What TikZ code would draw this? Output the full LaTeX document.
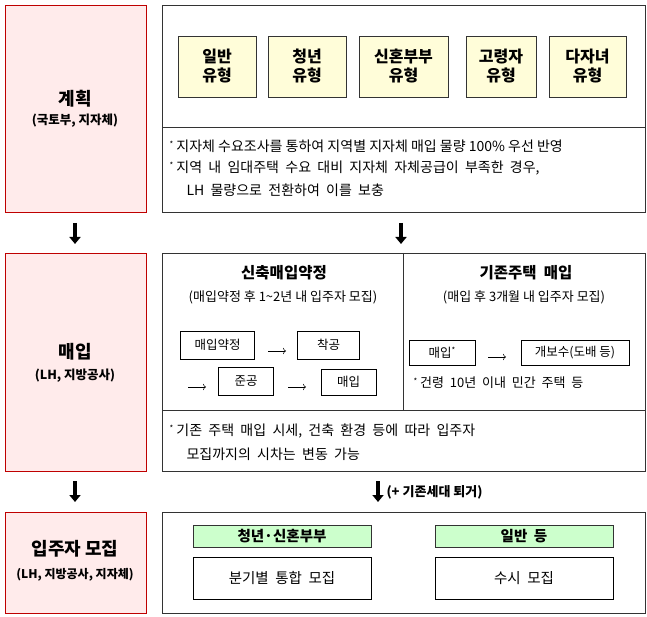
\documentclass[tikz,border=0pt]{standalone}
\usepackage{fontspec}
\setmainfont{Noto Sans CJK KR}
\usetikzlibrary{arrows.meta}
\newcommand{\myast}{\raisebox{0.5ex}{\fontsize{8}{8}\selectfont *}}
\begin{document}
\begin{tikzpicture}[x=1pt,y=-1pt,
  leftbox/.style={draw=red!75!black,fill=red!8,line width=0.8pt},
  rbox/.style={draw=black!80,line width=0.8pt},
  typebox/.style={draw=black!80,fill=yellow!15,line width=0.8pt,align=center,font=\fontsize{16}{19}\selectfont\bfseries},
  sbox/.style={draw=black,line width=0.8pt,font=\fontsize{12.5}{14}\selectfont},
  gbox/.style={draw=black!80,fill=green!20,line width=0.8pt,font=\fontsize{14.5}{16}\selectfont\bfseries},
  txt/.style={font=\fontsize{14}{16}\selectfont,anchor=west},
  big/.style={font=\fontsize{18}{21}\selectfont\bfseries},
  sub/.style={font=\fontsize{12.5}{14}\selectfont\bfseries},
  darr/.style={-{Triangle[length=7pt,width=11pt]},line width=3.4pt},
  sarr/.style={->,line width=0.6pt}]
\useasboundingbox (0,0) rectangle (647,617);
% left column
\draw[leftbox] (5,5) rectangle (146,212);
\node[big] (l1) at (75,99) {계획};
\node[sub] (l1s) at (75,121) {(국토부, 지자체)};
\draw[leftbox] (5,253) rectangle (146,471);
\node[big] (l2) at (75,352) {매입};
\node[sub] (l2s) at (75,376) {(LH, 지방공사)};
\draw[leftbox] (5,512) rectangle (146,613);
\node[big] (l3) at (75,549) {입주자 모집};
\node[sub,font=\fontsize{12}{14}\selectfont\bfseries] (l3s) at (75,575) {(LH, 지방공사, 지자체)};
% top right
\draw[rbox] (162,5) rectangle (645,212);
\draw[rbox] (162,127) -- (645,127);
\node[typebox,minimum width=78pt,minimum height=61pt] (t1) at (217,66.5) {일반\\유형};
\node[typebox,minimum width=78pt,minimum height=61pt] (t2) at (307,66.5) {청년\\유형};
\node[typebox,minimum width=89pt,minimum height=61pt] (t3) at (403.5,66.5) {신혼부부\\유형};
\node[typebox,minimum width=70pt,minimum height=61pt] (t4) at (501,66.5) {고령자\\유형};
\node[typebox,minimum width=77pt,minimum height=61pt] (t5) at (587.5,66.5) {다자녀\\유형};
\node[txt] (n1) at (166,146) {\myast\ 지자체 수요조사를 통하여 지역별 지자체 매입 물량 100\% 우선 반영};
\node[txt] (n2) at (166,168) {\myast\ 지역\ \ 내\ \ 임대주택\ \ 수요\ \ 대비\ \ 지자체\ \ 자체공급이\ \ 부족한\ \ 경우,};
\node[txt] (n3) at (183,190) {LH\ \ 물량으로\ \ 전환하여\ \ 이를\ \ 보충};
% arrows 1
\coordinate (a1s) at (75,223); \coordinate (a1e) at (75,244);
\draw[darr] (a1s) -- (a1e);
\coordinate (a2s) at (401,223); \coordinate (a2e) at (401,244);
\draw[darr] (a2s) -- (a2e);
% middle right
\draw[rbox] (162,253) rectangle (645,471);
\draw[rbox] (403,253) -- (403,410);
\draw[rbox] (162,410) -- (645,410);
\node[font=\fontsize{15.5}{18}\selectfont\bfseries] (h1) at (284,273) {신축매입약정};
\node[font=\fontsize{13}{15}\selectfont] (h1s) at (283,297) {(매입약정 후 1\textasciitilde2년 내 입주자 모집)};
\node[font=\fontsize{15.5}{18}\selectfont\bfseries] (h2) at (526,273) {기존주택\ \ 매입};
\node[font=\fontsize{13}{15}\selectfont] (h2s) at (524,297) {(매입\ 후\ 3개월\ 내\ 입주자\ 모집)};
\node[sbox,minimum width=74pt,minimum height=28pt] (b1) at (217.5,345) {매입약정};
\node[sbox,minimum width=62pt,minimum height=28pt] (b2) at (328.5,345) {착공};
\node[sbox,minimum width=55pt,minimum height=28pt] (b3) at (246,381) {준공};
\node[sbox,minimum width=55pt,minimum height=26pt] (b4) at (348.5,382) {매입};
\coordinate (p1) at (268,351); \coordinate (p2) at (286,351);
\draw[sarr] (p1) -- (p2);
\coordinate (p3) at (188,387); \coordinate (p4) at (206,387);
\draw[sarr] (p3) -- (p4);
\coordinate (p5) at (288,387); \coordinate (p6) at (306,387);
\draw[sarr] (p5) -- (p6);
\node[sbox,minimum width=66pt,minimum height=25pt] (b5) at (442,352.5) {매입\myast};
\node[sbox,minimum width=108pt,minimum height=25pt] (b6) at (575,352.5) {개보수(도배 등)};
\coordinate (p7) at (488,357); \coordinate (p8) at (506,357);
\draw[sarr] (p7) -- (p8);
\node[font=\fontsize{13}{15}\selectfont,anchor=west] (n4) at (410,383) {\myast\ 건령\ \ 10년\ \ 이내\ \ 민간\ \ 주택\ \ 등};
\node[txt] (n5) at (166,431) {\myast\ 기존\ \ 주택\ \ 매입\ \ 시세,\ \ 건축\ \ 환경\ \ 등에\ \ 따라\ \ 입주자};
\node[txt] (n6) at (183,454) {모집까지의\ \ 시차는\ \ 변동\ \ 가능};
% arrows 2
\coordinate (a3s) at (75,481); \coordinate (a3e) at (75,502);
\draw[darr] (a3s) -- (a3e);
\coordinate (a4s) at (378,481); \coordinate (a4e) at (378,502);
\draw[darr] (a4s) -- (a4e);
\node[font=\fontsize{13}{15}\selectfont\bfseries,anchor=west] (n7) at (383,492) {(+ 기존세대 퇴거)};
% bottom right
\draw[rbox] (162,512) rectangle (645,613);
\node[gbox,minimum width=178pt,minimum height=22pt] (g1) at (282,536) {청년·신혼부부};
\node[gbox,minimum width=178pt,minimum height=22pt] (g2) at (524,536) {일반\ \ 등};
\node[sbox,font=\fontsize{14.5}{16}\selectfont,minimum width=178pt,minimum height=42pt] (w1) at (282,578) {분기별\ \ 통합\ \ 모집};
\node[sbox,font=\fontsize{14.5}{16}\selectfont,minimum width=178pt,minimum height=42pt] (w2) at (524,578) {수시\ \ 모집};
\end{tikzpicture}
\end{document}
